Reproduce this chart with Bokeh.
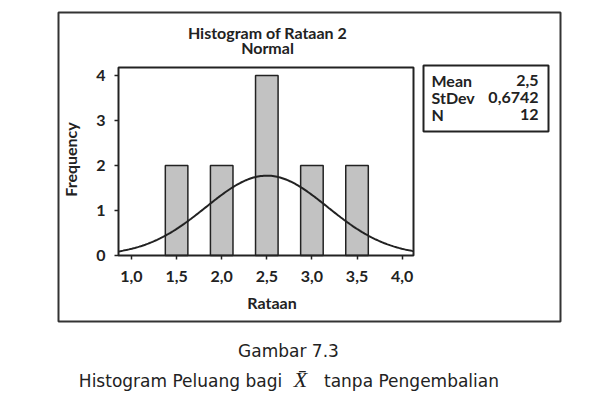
import numpy as np
from bokeh.plotting import figure
from bokeh.models import Label, BoxAnnotation, FixedTicker, Range1d, ColumnDataSource, LinearAxis
from bokeh.embed import file_html
from bokeh.resources import INLINE

# ---- data ----
bin_centers = [1.5, 2.0, 2.5, 3.0, 3.5]
frequencies = [2, 2, 4, 2, 2]
bin_width = 0.25
mean_val = 2.5
stdev_val = 0.6742
n_val = 12
x_ticks = [1.0, 1.5, 2.0, 2.5, 3.0, 3.5, 4.0]
x_tick_labels = ["1,0", "1,5", "2,0", "2,5", "3,0", "3,5", "4,0"]
y_ticks = [0, 1, 2, 3, 4]
stat_names = ["Mean", "StDev", "N"]
stat_values = ["2,5", "0,6742", "12"]

FONT = "Lato"
FSIZE = "16px"
CAP_FONT = "DejaVu Sans"
INK = "#222222"

W, H = 590, 406
# histogram frame in page pixels
FL, FR, FT, FB = 118, 413, 67, 255
hx0, hx1 = 0.856, 4.126
hy0, hy1 = 0.0, 4.18
kx = (hx1 - hx0) / (FR - FL)
ky = (hy1 - hy0) / (FB - FT)

p = figure(width=W, height=H, output_backend="svg", toolbar_location=None,
           x_range=Range1d(0, W), y_range=Range1d(H, 0),
           x_axis_location=None, y_axis_location=None,
           min_border=0)
p.min_border_left = p.min_border_right = p.min_border_top = p.min_border_bottom = 0
p.background_fill_color = "white"
p.border_fill_color = "white"
p.outline_line_color = None
p.xgrid.visible = False
p.ygrid.visible = False

p.extra_x_ranges = {"h": Range1d(hx0 - FL * kx, hx1 + (W - FR) * kx)}
p.extra_y_ranges = {"h": Range1d(hy0 - (H - FB) * ky, hy1 + FT * ky)}

src = ColumnDataSource(dict(x=bin_centers, top=frequencies))
p.vbar(x="x", top="top", width=bin_width, bottom=0, source=src,
       x_range_name="h", y_range_name="h",
       fill_color="#c2c2c2", line_color=INK, line_width=1.5)

xs = np.linspace(hx0, hx1, 200)
ys = n_val * bin_width * np.exp(-0.5 * ((xs - mean_val) / stdev_val) ** 2) / (stdev_val * np.sqrt(2 * np.pi))
p.line(xs, ys, x_range_name="h", y_range_name="h", line_color=INK, line_width=2)

xax = LinearAxis(x_range_name="h", y_range_name="h", fixed_location=hy0,
                 bounds=(hx0, hx1 + 12 * kx),
                 ticker=FixedTicker(ticks=x_ticks), axis_label="Rataan")
xax.major_label_overrides = {t: l for t, l in zip(x_ticks, x_tick_labels)}
xax.major_label_standoff = 11
xax.axis_label_standoff = 8
yax = LinearAxis(x_range_name="h", y_range_name="h", fixed_location=hx0,
                 bounds=(hy0, hy1 + 4 * ky),
                 ticker=FixedTicker(ticks=y_ticks), axis_label="Frequency")
yax.major_label_standoff = 9
yax.axis_label_standoff = 13
for ax in (xax, yax):
    ax.axis_line_color = None
    ax.major_tick_in = 0
    ax.major_tick_out = 4
    ax.major_tick_line_color = INK
    ax.major_tick_line_width = 1.5
    ax.minor_tick_line_color = None
    ax.major_label_text_font = FONT
    ax.major_label_text_font_size = FSIZE
    ax.major_label_text_font_style = "bold"
    ax.major_label_text_color = INK
    ax.axis_label_text_font = FONT
    ax.axis_label_text_font_size = FSIZE
    ax.axis_label_text_font_style = "bold"
    ax.axis_label_text_color = INK
p.add_layout(xax, "below")
p.add_layout(yax, "left")


def box(l, r, t, b, w=2, color=INK):
    p.add_layout(BoxAnnotation(left=l, right=r, top=t, bottom=b,
                               fill_color=None, fill_alpha=0,
                               line_color=color, line_alpha=1.0, line_width=w))


def lab(text, X, Y, size=FSIZE, font=FONT, style="bold", align="center"):
    p.add_layout(Label(x=X, y=Y, text=text, text_font=font, text_font_size=size,
                       text_font_style=style, text_align=align,
                       text_baseline="middle", text_color=INK))


# histogram frame
box(FL, FR, FT, FB, w=2)

# title
lab("Histogram of Rataan 2", 267, 32)
lab("Normal", 267, 47)

# stats box
box(423, 548, 65, 131, w=2)
for i, (nm, vl) in enumerate(zip(stat_names, stat_values)):
    yy = 80 + i * 17
    lab(nm, 431, yy, align="left")
    lab(vl, 538, yy, align="right")

# outer box
box(58, 560, 12, 321, w=2, color="#333333")

# caption
lab("Gambar 7.3", 288, 350, size="17px", font=CAP_FONT, style="normal")
lab("Histogram Peluang bagi", 180, 380, size="17px", font=CAP_FONT, style="normal")
lab("X\u0304", 300, 379, size="22px", font="Liberation Serif", style="italic")
lab("tanpa Pengembalian", 411, 380, size="17px", font=CAP_FONT, style="normal")

open("out.html", "w").write(file_html(p, INLINE))
